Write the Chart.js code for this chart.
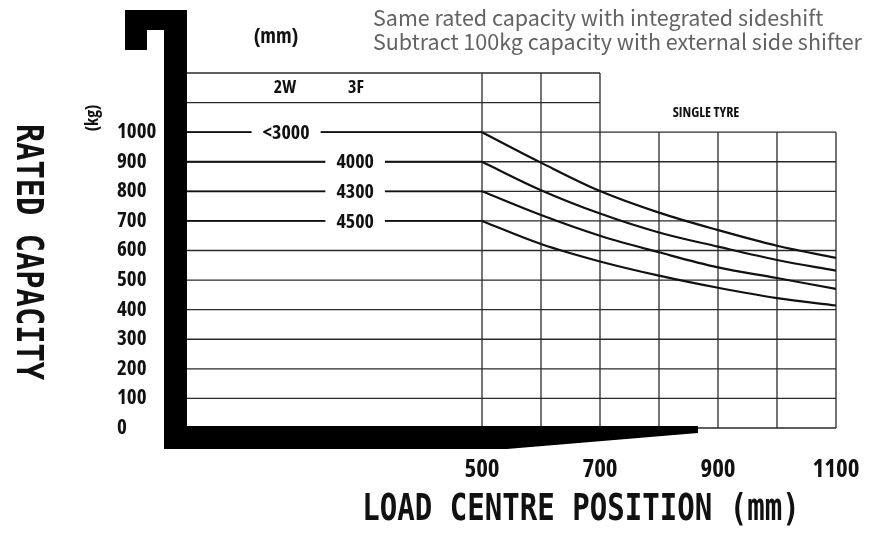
<!DOCTYPE html>
<html><head><meta charset="utf-8">
<script src="https://cdn.jsdelivr.net/npm/chart.js@4"></script>
<style>html,body{margin:0;padding:0;background:#fff}#wrap{width:880px;height:535px}</style>
</head><body><div id="wrap"><canvas id="c" width="880" height="535"></canvas></div>
<script>
// ---- data ----
const loadCentres = [500, 600, 700, 800, 900, 1000, 1100];
const cap3000 = [1000, 897, 801, 728, 669, 616, 575];
const cap4000 = [900, 804, 725, 661, 613, 568, 532];
const cap4300 = [800, 720, 650, 594, 543, 507, 470];
const cap4500 = [700, 622, 563, 515, 474, 439, 414];
const liftHeights = ['<3000', '4000', '4300', '4500'];
const xTickLabels = [500, 700, 900, 1100];
const yTickLabels = [0, 100, 200, 300, 400, 500, 600, 700, 800, 900, 1000];
const notes = ['Same rated capacity with integrated sideshift', 'Subtract 100kg capacity with external side shifter'];
const series = [cap3000, cap4000, cap4300, cap4500];

const NARROW = '"Open Sans", "Roboto", sans-serif';
const NARROW_W = 'bold condensed';
const MONO = '"DejaVu Sans Mono", "Liberation Mono", monospace';
const INK = '#111';

const datasets = [];
series.forEach((vals, i) => {
  datasets.push({
    label: liftHeights[i],
    data: loadCentres.map((c, k) => ({x: c, y: vals[k]})),
    borderColor: INK, borderWidth: 2.2, pointRadius: 0,
    tension: 0.35, fill: false
  });
  datasets.push({
    label: liftHeights[i] + ' leader',
    data: [{x: 0, y: vals[0]}, {x: loadCentres[0], y: vals[0]}],
    borderColor: INK, borderWidth: 1.8, pointRadius: 0, tension: 0, fill: false
  });
});

function scaledText(ctx, text, x, y, sx, rot) {
  ctx.save();
  ctx.translate(x, y);
  if (rot) ctx.rotate(rot);
  ctx.scale(sx, 1);
  ctx.fillText(text, 0, 0);
  ctx.restore();
}
function nfont(size) { return NARROW_W + ' ' + size + 'px ' + NARROW; }

const loadChartPlugin = {
  id: 'loadChart',
  beforeDatasetsDraw(chart) {
    const {ctx, scales: {x, y}} = chart;
    ctx.save();
    ctx.strokeStyle = '#2a2a2a';
    ctx.lineWidth = 1.3;
    const x0 = x.getPixelForValue(0);
    const yBottom = y.getPixelForValue(0);
    for (let v = 0; v <= 1200; v += 100) {
      const yy = y.getPixelForValue(v);
      const xEnd = x.getPixelForValue(v <= 1000 ? 1100 : 700);
      ctx.beginPath(); ctx.moveTo(x0, yy); ctx.lineTo(xEnd, yy); ctx.stroke();
    }
    for (let v = 500; v <= 1100; v += 100) {
      const xx = x.getPixelForValue(v);
      const yTop = y.getPixelForValue(v <= 700 ? 1200 : 1000);
      ctx.beginPath(); ctx.moveTo(xx, yBottom); ctx.lineTo(xx, yTop); ctx.stroke();
    }
    ctx.restore();
  },
  afterDatasetsDraw(chart) {
    const {ctx, chartArea, scales: {x, y}} = chart;
    ctx.save();
    // lift height labels on the leader lines
    const labelAt = [168, 285, 285, 285];
    ctx.font = nfont(20);
    ctx.textAlign = 'center';
    ctx.textBaseline = 'middle';
    liftHeights.forEach((t, i) => {
      const cx = x.getPixelForValue(labelAt[i]);
      const cy = y.getPixelForValue(series[i][0]);
      const w = ctx.measureText(t).width;
      ctx.fillStyle = '#fff';
      ctx.fillRect(cx - w / 2 - 11, cy - 4, w + 22, 8);
      ctx.fillStyle = INK;
      ctx.fillText(t, cx, cy + 1);
    });

    // mast and fork
    const L = chartArea.left, B = chartArea.bottom;
    ctx.fillStyle = '#000';
    ctx.fillRect(L - 23, 10, 23, B + 21 - 10);
    ctx.fillRect(L - 62, 10, 62, 20);
    ctx.fillRect(L - 62, 10, 22, 40);
    ctx.beginPath();
    ctx.moveTo(L - 23, B - 2);
    ctx.lineTo(x.getPixelForValue(866), B - 2);
    ctx.lineTo(x.getPixelForValue(866), B + 5);
    ctx.lineTo(x.getPixelForValue(542), B + 21);
    ctx.lineTo(L - 23, B + 21);
    ctx.closePath();
    ctx.fill();

    // small labels
    ctx.fillStyle = INK;
    ctx.textAlign = 'center';
    ctx.textBaseline = 'middle';
    ctx.font = nfont(21);
    ctx.fillText('(mm)', 276, 37);
    ctx.font = nfont(18);
    ctx.fillText('2W', 285, 88);
    ctx.fillText('3F', 356, 88);
    ctx.font = nfont(14);
    ctx.fillText('SINGLE TYRE', 706, 113);
    ctx.font = nfont(17);
    scaledText(ctx, '(kg)', 93, 118, 1, -Math.PI / 2);

    // axis titles
    ctx.font = 'bold 38px ' + MONO;
    scaledText(ctx, 'RATED CAPACITY', 27, 252, 0.8, Math.PI / 2);
    scaledText(ctx, 'LOAD CENTRE POSITION (mm)', 581, 510, 0.765, 0);

    // notes
    ctx.fillStyle = '#636363';
    ctx.textAlign = 'left';
    ctx.textBaseline = 'alphabetic';
    ctx.font = '21.5px "Noto Sans CJK SC", "Noto Sans", sans-serif';
    ctx.fillText(notes[0], 373, 26);
    ctx.fillText(notes[1], 373, 50);
    ctx.restore();
  }
};

new Chart(document.getElementById('c'), {
  type: 'line',
  data: {datasets},
  plugins: [loadChartPlugin],
  options: {
    responsive: false,
    animation: false,
    events: [],
    layout: {padding: {left: 117, top: 73, right: 44, bottom: 50}},
    plugins: {legend: {display: false}, tooltip: {enabled: false}},
    scales: {
      x: {
        type: 'linear', min: 0, max: 1100,
        grid: {display: false}, border: {display: false},
        afterFit(s) { s.height = 57; s.paddingLeft = 0; s.paddingRight = 0; },
        afterBuildTicks(s) { s.ticks = xTickLabels.map(v => ({value: v})); },
        ticks: {autoSkip: false, maxRotation: 0, padding: 19, color: INK,
          callback: v => String(v),
          font: {family: NARROW, size: 25, weight: NARROW_W}}
      },
      y: {
        type: 'linear', min: 0, max: 1200,
        grid: {display: false, drawTicks: false}, border: {display: false},
        afterFit(s) { s.width = 70; s.paddingTop = 0; s.paddingBottom = 0; },
        afterBuildTicks(s) { s.ticks = yTickLabels.map(v => ({value: v})); },
        ticks: {autoSkip: false, crossAlign: 'far', color: INK,
          callback: v => String(v),
          font: {family: NARROW, size: 21, weight: NARROW_W}}
      }
    }
  }
});
</script></body></html>
